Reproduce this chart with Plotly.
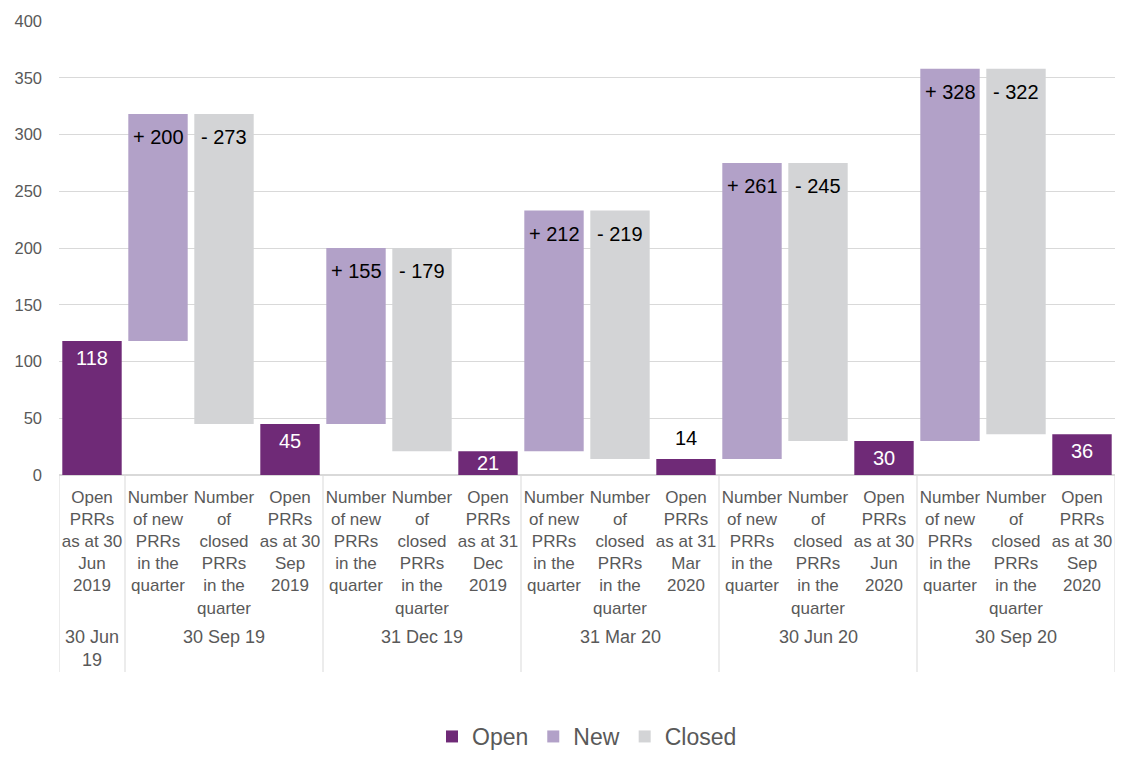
import plotly.graph_objects as go

# ---- data ----
quarters = ["30 Jun<br>19", "30 Sep 19", "31 Dec 19", "31 Mar 20", "30 Jun 20", "30 Sep 20"]
open_labels = ["Open<br>PRRs<br>as at 30<br>Jun<br>2019", "Open<br>PRRs<br>as at 30<br>Sep<br>2019",
               "Open<br>PRRs<br>as at 31<br>Dec<br>2019", "Open<br>PRRs<br>as at 31<br>Mar<br>2020",
               "Open<br>PRRs<br>as at 30<br>Jun<br>2020", "Open<br>PRRs<br>as at 30<br>Sep<br>2020"]
new_label = "Number<br>of new<br>PRRs<br>in the<br>quarter"
closed_label = "Number<br>of<br>closed<br>PRRs<br>in the<br>quarter"
open_vals = [118, 45, 21, 14, 30, 36]
new_vals = [200, 155, 212, 261, 328]
closed_vals = [273, 179, 219, 245, 322]

C_OPEN = "#6F2A77"
C_NEW = "#B2A1C8"
C_CLOSED = "#D3D4D6"
TXT = "#595959"
FONT = "Arial, Liberation Sans, sans-serif"

# positions: open0, then (new, closed, open) for each quarter
open_x = [0] + [3 * i + 3 for i in range(len(new_vals))]
new_x = [3 * i + 1 for i in range(len(new_vals))]
closed_x = [3 * i + 2 for i in range(len(new_vals))]

new_base = open_vals[:-1]
closed_base = open_vals[1:]
closed_tops = [o + n for o, n in zip(open_vals[:-1], new_vals)]
closed_len = [t - b for t, b in zip(closed_tops, closed_base)]

tickvals = list(range(3 * len(new_vals) + 1))
ticktext = [open_labels[0]]
for i in range(len(new_vals)):
    ticktext += [new_label, closed_label, open_labels[i + 1]]

fig = go.Figure()
fig.add_trace(go.Bar(x=open_x, y=open_vals, name="Open", marker_color=C_OPEN, width=0.9,
                     marker_line_width=0))
fig.add_trace(go.Bar(x=new_x, y=new_vals, base=new_base, name="New", marker_color=C_NEW, width=0.9,
                     marker_line_width=0))
fig.add_trace(go.Bar(x=closed_x, y=closed_len, base=closed_base, name="Closed", marker_color=C_CLOSED,
                     width=0.9, marker_line_width=0))

W, H = 1108, 750          # page body has an 8px margin
plot_h = 454
px_per_unit = plot_h / 400.0

def py(px):
    # page pixel -> paper coordinate (zero line at page y=475)
    return (475 - px) / plot_h

LBL = 20
for x, v in zip(open_x, open_vals):
    hpx = v * px_per_unit
    if hpx < 20:
        fig.add_annotation(x=x, y=v, text=str(v), showarrow=False, yshift=21,
                           font=dict(size=LBL, color="black", family=FONT))
    else:
        fig.add_annotation(x=x, y=v, text=str(v), showarrow=False, yshift=-min(17, hpx / 2),
                           font=dict(size=LBL, color="white", family=FONT))
for x, v, top in zip(new_x, new_vals, closed_tops):
    fig.add_annotation(x=x, y=top, text="+ %d" % v, showarrow=False, yshift=-23,
                       font=dict(size=LBL, color="black", family=FONT))
for x, v, top in zip(closed_x, closed_vals, closed_tops):
    fig.add_annotation(x=x, y=top, text="- %d" % v, showarrow=False, yshift=-23,
                       font=dict(size=LBL, color="black", family=FONT))

# dividers
div_x = [-0.5, 0.5] + [3 * i + 3.5 for i in range(len(new_vals))]
for dx in div_x:
    fig.add_shape(type="line", xref="x", yref="paper", x0=dx, x1=dx, y0=0, y1=py(672),
                  line=dict(color="#D9D9D9", width=1))

# group labels
group_centers = [0] + [3 * i + 2 for i in range(len(new_vals))]
for q, cx in zip(quarters, group_centers):
    fig.add_annotation(x=cx, y=py(625), xref="x", yref="paper", text=q, showarrow=False,
                       yanchor="top", font=dict(size=18, color=TXT, family=FONT))

fig.update_layout(
    width=W, height=H,
    margin=dict(l=51, r=1, t=13, b=H - (475 - 8), autoexpand=False),
    plot_bgcolor="white", paper_bgcolor="white",
    barmode="overlay",
    font=dict(family=FONT, color=TXT),
    showlegend=True,
    legend=dict(orientation="h", x=0.5, xanchor="center", yref="container",
                y=-8 / H, yanchor="bottom",
                font=dict(size=23, color=TXT, family=FONT), itemwidth=30, traceorder="normal"),
    xaxis=dict(range=[-0.5, 15.5], tickvals=tickvals, ticktext=ticktext, tickangle=0,
               showgrid=False, zeroline=False, showline=False, ticks="", automargin=False,
               ticklabelstandoff=10,
               tickfont=dict(size=17, color=TXT, family=FONT)),
    yaxis=dict(range=[0, 400], dtick=50, showgrid=True, gridcolor="#D9D9D9", zeroline=True,
               zerolinecolor="#D9D9D9", ticks="", ticklabelstandoff=16, automargin=False,
               tickfont=dict(size=16.5, color=TXT, family=FONT)),
)

fig.write_html("out.html")
